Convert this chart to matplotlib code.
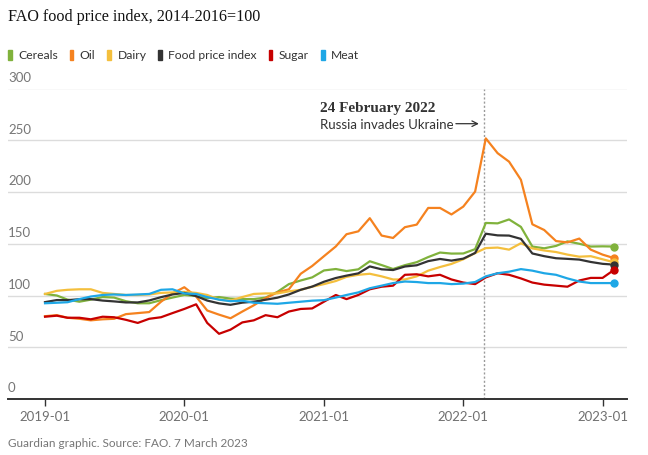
import pandas as pd
import matplotlib.pyplot as plt
import matplotlib.dates as mdates
import matplotlib.transforms as mtransforms
from matplotlib.patches import Rectangle

months = pd.date_range('2019-01-01', '2023-02-01', freq='MS')

cereals = [101.5, 100.0, 96.0, 94.0, 96.0, 98.5, 98.0, 94.5, 92.5, 92.5, 95.5, 98.0,
           100.5, 99.5, 97.5, 98.5, 97.0, 96.5, 96.5, 98.0, 103.5, 111.0, 114.5, 117.5,
           124.2, 125.6, 123.6, 125.3, 133.1, 129.4, 125.6, 129.3, 132.2, 137.1, 141.5, 140.5,
           140.6, 144.8, 170.1, 169.7, 173.5, 166.3, 147.3, 145.6, 147.9, 152.3, 150.0, 147.3,
           147.5, 147.3]
oil = [80.0, 81.0, 78.5, 77.5, 76.0, 77.0, 77.5, 82.0, 83.0, 84.0, 94.0, 102.0,
       108.0, 99.0, 85.5, 81.5, 78.0, 84.5, 90.5, 97.5, 103.0, 106.0, 121.0, 128.5,
       138.0, 147.4, 159.2, 162.0, 174.7, 157.9, 155.6, 166.0, 168.5, 184.6, 184.6, 178.3,
       185.9, 200.4, 251.8, 237.5, 229.3, 211.8, 168.8, 163.3, 152.6, 151.3, 155.0, 144.3,
       139.5, 136.0]
dairy = [101.5, 104.5, 105.5, 106.0, 106.0, 102.5, 101.5, 100.5, 100.5, 101.0, 102.5, 103.0,
         103.5, 102.5, 100.5, 96.0, 95.0, 98.5, 101.5, 102.0, 102.0, 104.0, 105.5, 108.5,
         111.0, 114.0, 118.0, 120.0, 121.0, 118.5, 115.5, 115.5, 118.5, 124.0, 127.5, 130.5,
         135.0, 141.0, 145.8, 146.3, 144.3, 150.5, 145.5, 143.5, 142.0, 139.5, 137.5, 138.0,
         135.0, 132.0]
food_index = [93.6, 95.6, 95.5, 96.4, 96.5, 95.1, 94.3, 93.3, 93.3, 95.2, 98.4, 101.0,
              102.5, 99.4, 95.1, 92.4, 91.0, 93.1, 94.0, 95.9, 97.9, 101.0, 105.5, 108.6,
              113.3, 116.9, 119.2, 121.4, 128.1, 125.3, 124.6, 128.0, 129.2, 133.2, 135.3, 133.7,
              135.6, 141.1, 159.7, 158.1, 157.9, 154.7, 140.6, 138.0, 136.0, 135.4, 134.7, 132.4,
              130.6, 129.8]
sugar = [79.5, 80.5, 78.5, 78.5, 77.0, 79.5, 79.0, 76.5, 73.5, 77.5, 79.0, 83.0,
         87.0, 91.5, 73.5, 63.0, 67.0, 74.0, 76.0, 81.0, 79.0, 84.5, 87.0, 87.5,
         94.0, 100.5, 96.5, 100.5, 106.0, 108.5, 109.5, 120.0, 120.5, 118.5, 120.0, 115.5,
         112.5, 111.0, 117.5, 121.5, 120.0, 116.5, 112.5, 110.5, 109.5, 108.5, 114.5, 117.0,
         117.0, 125.0]
meat = [92.5, 93.0, 93.5, 96.5, 99.0, 100.5, 101.0, 100.5, 101.0, 101.5, 105.5, 106.0,
        102.0, 101.5, 98.5, 96.0, 94.5, 95.0, 93.0, 92.5, 92.0, 93.0, 94.0, 95.0,
        95.5, 98.0, 100.5, 103.0, 107.0, 109.5, 112.0, 113.5, 113.0, 112.0, 112.0, 111.0,
        111.5, 113.0, 118.5, 121.5, 123.0, 125.5, 124.0, 121.5, 120.0, 116.5, 113.5, 112.0,
        112.0, 112.0]

names = ['Cereals', 'Oil', 'Dairy', 'Food price index', 'Sugar', 'Meat']
series = [cereals, oil, dairy, food_index, sugar, meat]
colors = ['#80b23c', '#f5821f', '#f4bf3d', '#333333', '#c70000', '#1ea7e6']

y_ticks = [0, 50, 100, 150, 200, 250, 300]
x_ticks = pd.to_datetime(['2019-01-01', '2020-01-01', '2021-01-01', '2022-01-01', '2023-01-01'])
invasion = pd.Timestamp('2022-02-24')

sans = 'Lato'
serif = 'Liberation Serif'

fig = plt.figure(figsize=(6.48, 4.56), dpi=100)
W, H = 648, 456
ax = fig.add_axes([8 / W, 1 - 400 / H, (627 - 8) / W, (400 - 89.5) / H])

for v in y_ticks[1:]:
    ax.axhline(v, color='#dcdcdc', lw=1, zorder=1)
for v in y_ticks:
    ax.annotate(str(v), xy=(0, v), xycoords=('axes fraction', 'data'),
                xytext=(0, 4), textcoords='offset points', ha='left', va='bottom',
                fontsize=9.5, color='#767676', family=sans)

ax.axvline(invasion, color='#9a9a9a', lw=1, ls=(0, (1.5, 1.5)), zorder=2)

for name, vals, c in zip(names, series, colors):
    ax.plot(months, vals, color=c, lw=1.6, zorder=3, solid_joinstyle='round')
    ax.plot(months[-1:], vals[-1:], 'o', color=c, ms=5, zorder=4)

ax.set_ylim(0, 300)
ax.set_xlim(pd.Timestamp('2018-09-26'), pd.Timestamp('2023-03-06'))
for s in ['top', 'right', 'left']:
    ax.spines[s].set_visible(False)
ax.spines['bottom'].set_color('#333333')
ax.spines['bottom'].set_linewidth(1.4)
ax.spines['bottom'].set_zorder(5)
ax.set_yticks([])
ax.set_xticks(x_ticks)
ax.xaxis.set_major_formatter(mdates.DateFormatter('%Y-%m'))
ax.tick_params(axis='x', length=5, width=1, color='#333333', labelcolor='#707070',
               labelsize=9.5, pad=3)
for lab in ax.get_xticklabels():
    lab.set_family(sans)

# annotation, placed relative to the invasion line
inv_num = mdates.date2num(invasion)
left_of_line = mtransforms.offset_copy(ax.transData, fig=fig, x=-164, y=0, units='dots')
ax.text(inv_num, 282, '24 February 2022', transform=left_of_line,
        ha='left', va='center', fontsize=11, fontweight='bold', color='#333333', family=serif)
ax.text(inv_num, 266, 'Russia invades Ukraine', transform=left_of_line,
        ha='left', va='center', fontsize=9.5, color='#333333', family=sans)
arrow_end = mtransforms.offset_copy(ax.transData, fig=fig, x=-5, y=0, units='dots')
ax.annotate('', xy=(inv_num, 266), xycoords=arrow_end,
            xytext=(-23, 0), textcoords='offset pixels',
            arrowprops=dict(arrowstyle='->', color='#333333', lw=0.9, shrinkA=0, shrinkB=0))

# title and footer
fig.text(8 / W, 1 - 17 / H, 'FAO food price index, 2014-2016=100', ha='left', va='center',
         fontsize=11.6, color='#121212', family=serif)
fig.text(8 / W, 1 - 444 / H, 'Guardian graphic. Source: FAO. 7 March 2023', ha='left',
         va='center', fontsize=8.5, color='#767676', family=sans)

# legend
renderer = fig.canvas.get_renderer()
x = 8
for name, c in zip(names, colors):
    fig.patches.append(Rectangle((x / W, 1 - 60.5 / H), 3.5 / W, 10 / H, color=c,
                                 transform=fig.transFigure, figure=fig))
    t = fig.text((x + 10) / W, 1 - 55.5 / H, name, ha='left', va='center', fontsize=8.7,
                 color='#333333', family=sans)
    w = t.get_window_extent(renderer).width
    x = x + 10 + w + 12

fig.savefig('out.png', dpi=100)
